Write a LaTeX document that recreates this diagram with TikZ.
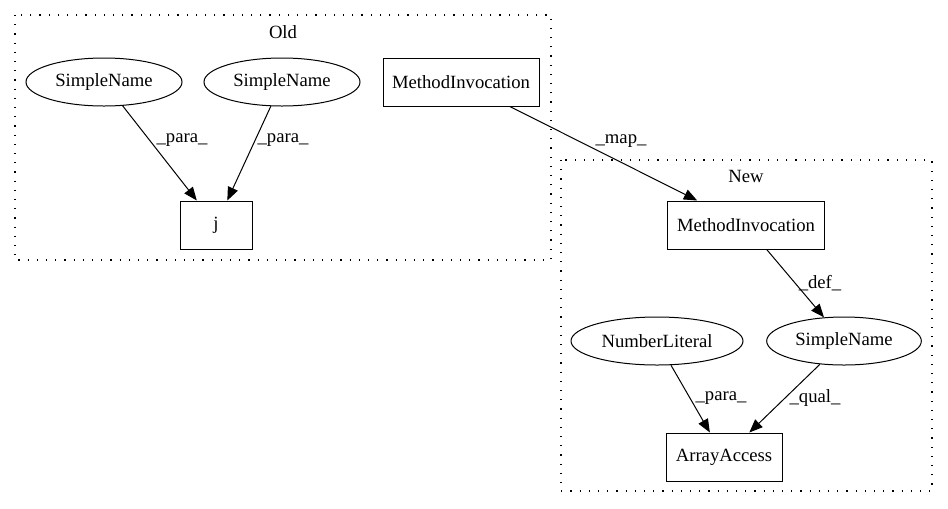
\documentclass[tikz,border=0pt]{standalone}
\usepackage{fontspec}
\setmainfont{Liberation Serif}
\usetikzlibrary{shapes.geometric,arrows.meta}

\begin{document}
\begin{tikzpicture}[x=0.75pt, y=-0.75pt, font=\fontsize{14}{16}\selectfont,
  box/.style={draw, rectangle, line width=0.75pt, minimum height=36pt, inner sep=0pt},
  oval/.style={draw, ellipse, line width=0.75pt, minimum height=36pt, inner sep=0pt},
  cluster/.style={line width=0.8pt, dash pattern=on 0.9pt off 6pt},
  edge/.style={line width=0.75pt, -{Triangle[length=10pt,width=8pt]}},
  elabel/.style={inner sep=0pt}]
  \useasboundingbox (0,0) rectangle (948,508);

  \draw[cluster] (15,15) rectangle (551,260);
  \node (old) at (283,32) {Old};
  \draw[cluster] (561,160) rectangle (932,491);
  \node (new) at (746,176) {New};

  \node[oval, minimum width=117pt] (sn1) at (104,82) {SimpleName};
  \node[oval, minimum width=117pt] (sn2) at (282,82) {SimpleName};
  \node[box, minimum width=117pt] (mi1) at (461,82) {MethodInvocation};
  \node[box, minimum width=54pt] (j) at (216,225) {j};

  \node[box, minimum width=118pt] (mi2) at (746,225) {MethodInvocation};
  \node[oval, minimum width=129pt] (nl) at (657,341) {NumberLiteral};
  \node[oval, minimum width=116pt] (sn3) at (844,341) {SimpleName};
  \node[box, minimum width=87pt] (aa) at (724,457) {ArrayAccess};

  \draw[edge] (sn1) -- (j);
  \node[elabel] (para1) at (182,140) {\_para\_};
  \draw[edge] (sn2) -- (j);
  \node[elabel] (para2) at (283,140) {\_para\_};
  \draw[edge] (mi1) -- (mi2);
  \node[elabel] (map) at (621,141) {\_map\_};
  \draw[edge] (mi2) -- (sn3);
  \node[elabel] (def) at (820,283) {\_def\_};
  \draw[edge] (nl) -- (aa);
  \node[elabel] (para3) at (721,398) {\_para\_};
  \draw[edge] (sn3) -- (aa);
  \node[elabel] (qual) at (815,398) {\_qual\_};
\end{tikzpicture}
\end{document}
